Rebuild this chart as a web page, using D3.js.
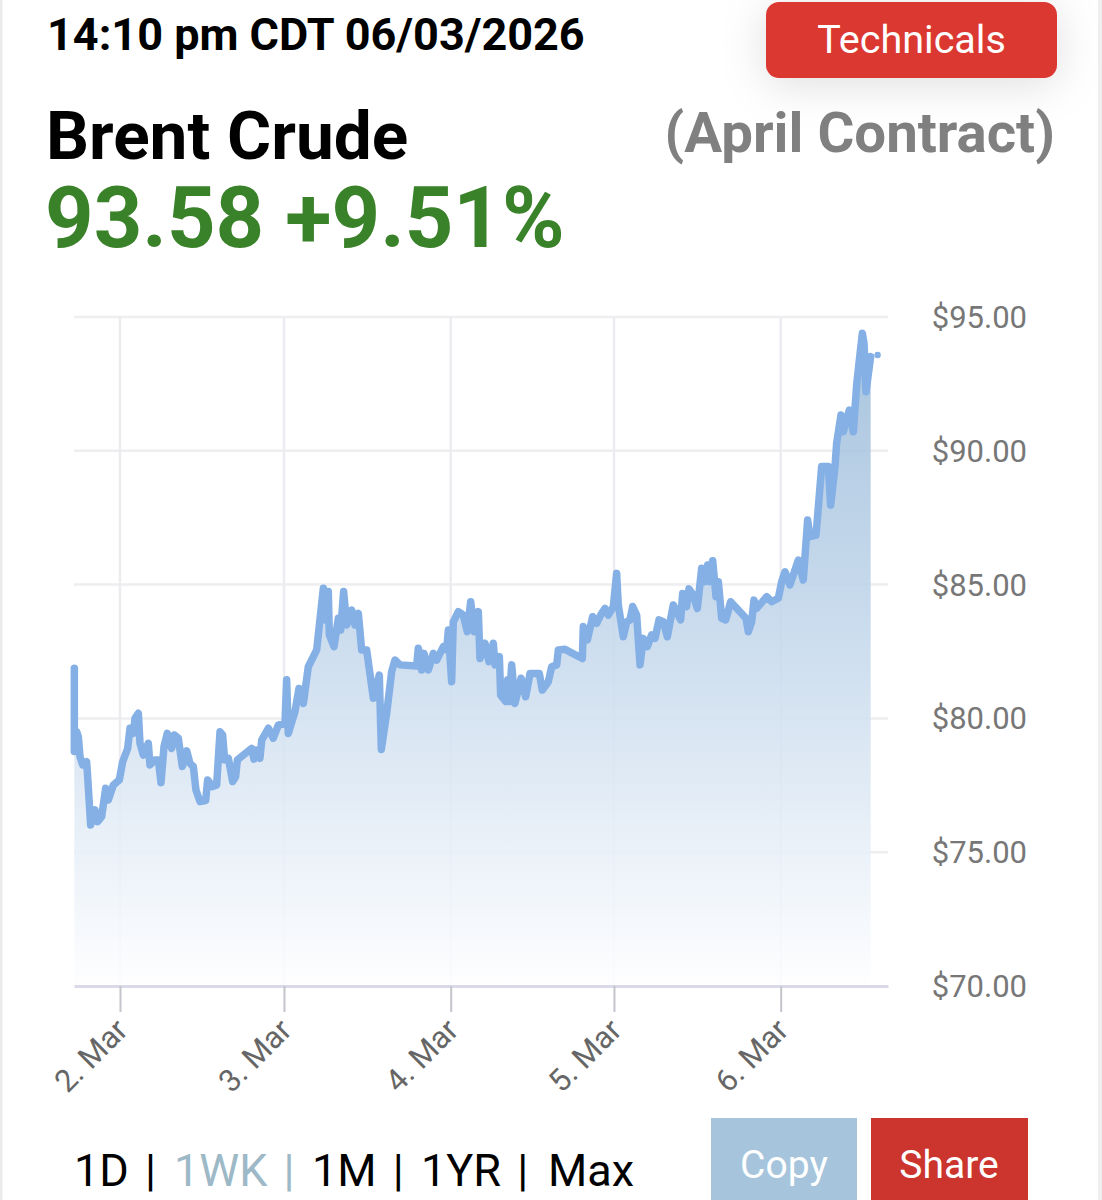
<!DOCTYPE html>
<html><head><meta charset="utf-8">
<script src="https://d3js.org/d3.v7.min.js"></script>
<style>html,body{margin:0;padding:0;background:#fff}svg{display:block}text{font-family:Roboto,sans-serif}</style>
</head><body><div id="chart"></div>
<script>
const hours=[-6.64,-6.64,-6.30,-6.06,-5.82,-5.43,-4.85,-4.61,-4.27,-3.64,-3.25,-2.67,-2.08,-1.70,-0.97,-0.10,0.39,1.12,1.45,1.94,2.18,2.67,2.91,3.39,4.12,4.36,5.09,5.58,5.96,6.40,6.88,7.52,7.90,8.48,9.07,9.70,10.18,10.67,11.05,11.64,12.46,12.75,13.48,14.06,14.55,14.93,15.22,15.76,16.39,16.82,17.07,19.15,19.49,19.88,20.36,20.61,21.58,22.30,23.03,24.00,24.24,24.48,25.45,26.04,26.67,27.39,28.61,29.58,29.82,30.30,30.45,31.13,31.76,32.10,32.53,32.97,33.70,34.18,34.67,35.15,35.88,36.85,37.72,38.01,38.79,39.52,40.00,40.73,43.15,43.39,43.88,44.22,44.85,45.58,46.06,47.03,47.52,47.76,48.24,48.48,49.21,49.94,50.52,51.01,51.54,52.12,52.36,53.09,53.67,54.30,54.55,55.18,55.37,56.10,56.39,56.63,56.97,57.45,58.33,59.01,59.64,60.99,61.43,62.30,62.79,63.52,63.76,64.73,67.25,67.39,67.98,68.75,69.33,69.91,70.55,71.03,71.76,72.24,72.48,73.21,73.70,74.18,74.57,75.15,75.64,76.12,76.70,77.33,77.82,78.40,79.03,79.61,80.48,81.55,81.84,82.42,82.76,83.39,83.98,84.61,85.09,85.48,85.82,86.21,86.69,87.03,87.52,88.10,88.82,91.05,91.39,91.88,92.22,92.61,94.06,94.79,95.76,96.24,96.73,97.45,98.67,99.39,100.02,100.36,101.24,102.06,103.03,103.37,104.00,104.24,104.87,105.21,106.08,106.67,107.15,107.54,107.98,108.22,108.51,109.19];
const prices=[81.87,78.76,79.50,79.32,78.57,78.26,78.38,77.45,76.02,76.58,76.14,76.33,77.39,76.95,77.51,77.70,78.38,78.88,79.63,79.44,80.00,80.19,79.07,78.63,79.07,78.26,78.45,78.45,77.60,78.94,79.44,78.88,79.38,79.26,78.20,78.79,78.32,78.20,77.32,76.89,76.93,77.70,77.45,77.51,79.50,79.38,78.45,78.51,77.64,77.82,78.45,78.88,78.48,78.82,78.51,79.19,79.63,79.26,79.75,79.82,81.44,79.44,80.25,81.12,80.56,81.93,82.56,84.86,83.68,84.74,83.12,82.68,83.74,83.30,84.74,83.49,84.05,83.49,83.93,82.56,82.56,80.75,81.62,78.84,80.19,81.75,82.18,82.00,81.96,82.62,81.81,82.43,81.81,82.43,82.18,82.68,82.56,83.30,81.37,83.61,83.99,83.86,83.24,84.36,83.24,83.99,82.24,82.81,82.12,82.81,82.00,82.31,80.87,80.63,81.44,80.63,82.00,80.56,81.50,80.81,81.68,81.68,81.06,81.37,81.93,82.00,82.56,82.58,82.24,83.43,82.93,83.80,83.55,83.86,84.11,83.86,84.18,85.42,84.24,83.05,83.61,83.68,84.18,83.86,82.00,82.99,82.68,83.12,82.99,83.68,83.61,83.05,84.24,83.68,84.67,84.18,84.84,84.61,84.11,85.61,85.11,85.73,85.11,85.89,84.55,85.11,83.74,83.68,84.36,83.74,83.24,83.61,84.42,84.11,84.55,84.36,84.49,85.11,85.48,84.99,85.92,85.17,87.41,86.79,86.85,89.41,89.41,87.97,89.41,90.28,91.34,90.71,91.52,90.71,92.46,93.39,94.39,94.02,92.21,93.52];
const lastHour=110.2, lastPrice=93.58;
const priceTicks=[70,75,80,85,90,95];
const dayTicks=[0,23.85,48.1,71.85,96.1];
const dayLabels=["2. Mar","3. Mar","4. Mar","5. Mar","6. Mar"];
const rangeButtons=["1D |","1WK |","1M |","1YR |","Max"];
const rangeColors=["#000","#9db8c6","#000","#000","#000"];
const timestamp="14:10 pm CDT 06/03/2026", titleText="Brent Crude", contractText="(April Contract)", quoteText="93.58 +9.51%";

const W=1102,H=1200;
const svg=d3.select("#chart").append("svg").attr("width",W).attr("height",H);
const defs=svg.append("defs");
const grad=defs.append("linearGradient").attr("id","fade").attr("gradientUnits","userSpaceOnUse").attr("x1",0).attr("x2",0).attr("y1",333).attr("y2",986);
grad.append("stop").attr("offset",0).attr("stop-color","#9cbcda");
grad.append("stop").attr("offset",.45).attr("stop-color","#c3d7eb");
grad.append("stop").attr("offset",1).attr("stop-color","#fefeff");
const sh=defs.append("filter").attr("id","sh").attr("x","-30%").attr("y","-60%").attr("width","160%").attr("height","240%");
sh.append("feDropShadow").attr("dx",0).attr("dy",6).attr("stdDeviation",22).attr("flood-color","#000").attr("flood-opacity",.13);

svg.append("rect").attr("x",0).attr("y",0).attr("width",2.5).attr("height",H).attr("fill","#ebebeb");
svg.append("rect").attr("x",1098).attr("y",0).attr("width",4).attr("height",H).attr("fill","#efefef");

const x=d3.scaleLinear().domain([-6.69,111.71]).range([74,888]);
const y=d3.scaleLinear().domain([70,95]).range([986,317]);

// grid
svg.append("g").selectAll("line").data(priceTicks.slice(1)).join("line")
 .attr("x1",74).attr("x2",888).attr("y1",d=>y(d)).attr("y2",d=>y(d)).attr("stroke","#eeeef1").attr("stroke-width",2.5);
svg.append("g").selectAll("line").data(dayTicks).join("line")
 .attr("x1",d=>x(d)).attr("x2",d=>x(d)).attr("y1",317).attr("y2",986).attr("stroke","#ececf0").attr("stroke-width",2.5);

const pts=hours.map((h,i)=>[h,prices[i]]);
svg.append("path").datum(pts).attr("fill","url(#fade)").attr("fill-opacity",.88)
 .attr("d",d3.area().x(d=>x(d[0])).y0(986).y1(d=>y(d[1])));
svg.append("path").datum(pts).attr("fill","none").attr("stroke","#85b0e6").attr("stroke-width",7.5).attr("stroke-linejoin","round").attr("stroke-linecap","round")
 .attr("d",d3.line().x(d=>x(d[0])).y(d=>y(d[1])));
svg.append("circle").datum([lastHour,lastPrice]).attr("cx",d=>x(d[0])).attr("cy",d=>y(d[1])).attr("r",3.2).attr("fill","#85b0e6");

// x axis
const ax=svg.append("g").attr("transform","translate(0,986)").call(d3.axisBottom(x).tickValues(dayTicks).tickFormat((d,i)=>dayLabels[i]).tickSize(26).tickSizeOuter(0));
ax.select(".domain").attr("stroke","#d9d9e8").attr("stroke-width",3);
ax.selectAll(".tick line").attr("stroke","#c4c4cc").attr("stroke-width",2);
ax.selectAll(".tick text").attr("font-family","Roboto").attr("font-size",31).attr("fill","#666").attr("text-anchor","end")
 .attr("dy",0).attr("y",0).attr("transform","translate(9,46) rotate(-45)");

// y axis
const ay=svg.append("g").attr("transform","translate(1027,0.5)").call(d3.axisLeft(y).tickValues(priceTicks).tickFormat(d=>"$"+d3.format(".2f")(d)).tickSize(0));
ay.select(".domain").remove();
ay.selectAll(".tick text").attr("x",0).attr("font-family","Roboto").attr("font-size",31).attr("fill","#777").attr("text-anchor","end");

// header
svg.append("text").attr("x",47).attr("y",50).attr("font-size",45).attr("font-weight",700).attr("fill","#000").text(timestamp);
svg.append("text").attr("x",46).attr("y",159).attr("font-size",67.5).attr("font-weight",700).attr("fill","#000").text(titleText);
svg.append("text").attr("x",45).attr("y",247).attr("font-size",84.8).attr("font-weight",700).attr("fill","#3a8229").text(quoteText);
svg.append("text").attr("x",1055).attr("y",152).attr("text-anchor","end").attr("font-size",56.4).attr("font-weight",700).attr("fill","#808080").text(contractText);
svg.append("rect").attr("x",766).attr("y",2).attr("width",291).attr("height",76).attr("rx",13).attr("fill","#dc3833").attr("filter","url(#sh)");
svg.append("text").attr("x",911.5).attr("y",53).attr("text-anchor","middle").attr("font-size",39.5).attr("fill","#fff").text("Technicals");

// range selector
const rangeX=[74,174,312,421,548];
svg.append("g").selectAll("text").data(rangeButtons).join("text")
 .attr("x",(d,i)=>rangeX[i]).attr("y",1186).attr("font-size",45).attr("word-spacing",5).attr("fill",(d,i)=>rangeColors[i]).text(d=>d);

svg.append("rect").attr("x",711).attr("y",1118).attr("width",146).attr("height",82).attr("fill","#a6c5dd");
svg.append("rect").attr("x",871).attr("y",1118).attr("width",157).attr("height",82).attr("fill","#cc342e");
svg.append("text").attr("x",784).attr("y",1178).attr("text-anchor","middle").attr("font-size",39).attr("fill","#fff").text("Copy");
svg.append("text").attr("x",949).attr("y",1178).attr("text-anchor","middle").attr("font-size",39).attr("fill","#fff").text("Share");
</script></body></html>
